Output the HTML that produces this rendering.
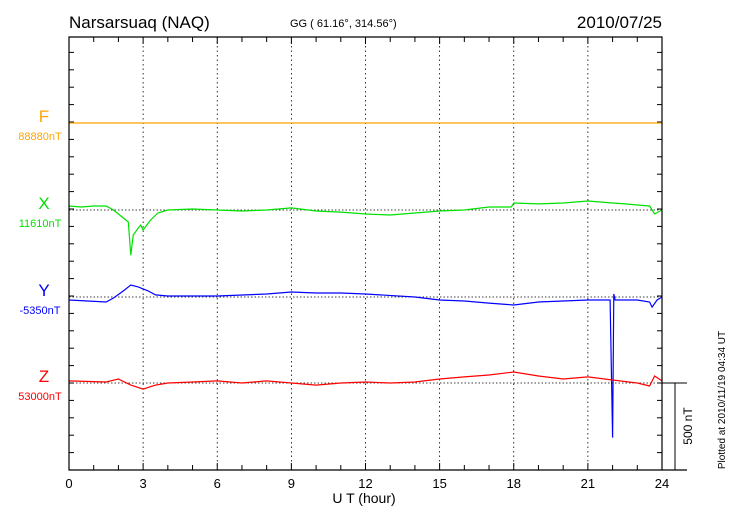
<!DOCTYPE html>
<html><head><meta charset="utf-8"><style>
body{margin:0;background:#fff}
svg{font-family:"Liberation Sans",sans-serif}
</style></head><body>
<svg id="c" width="730" height="520">
<text x="69" y="28" font-size="17">Narsarsuaq (NAQ)</text>
<text x="290" y="27" font-size="11">GG ( 61.16°, 314.56°)</text>
<text x="662" y="28" font-size="17" text-anchor="end">2010/07/25</text>
<text x="725" y="400" font-size="10" text-anchor="middle" transform="rotate(-90 725 400)">Plotted at 2010/11/19 04:34 UT</text>
<text x="364" y="503" font-size="14" text-anchor="middle">U T (hour)</text>
</svg>
<script>
const hoursTicks=[0,3,6,9,12,15,18,21,24];
const fT=[0,24], fV=[0,0];
const xT=[0,0.5,1,1.5,1.8,2.0,2.2,2.4,2.5,2.6,2.8,2.9,3.0,3.3,3.6,4,5,6,7,8,9,10,11,12,13,14,15,16,17,17.9,18,19,20,21,22,22.5,23,23.5,23.7,24];
const xV=[23,17,23,23,0,-23,-46,-69,-260,-144,-104,-87,-115,-58,-17,0,6,0,-6,0,12,-6,-12,-23,-29,-17,-6,0,17,17,40,35,40,52,40,35,29,23,-23,0];
const yT=[0,1.5,1.8,2.2,2.5,2.8,3.2,3.5,4,6,8,9,10,11,12,14,15,16,17,18,19,20,21,21.9,22.0,22.05,22.1,23,23.5,23.6,23.8,24];
const yV=[-17,-29,-6,35,69,58,35,12,6,6,17,29,23,23,17,0,-17,-23,-35,-46,-29,-23,-17,-17,-808,17,-17,-17,-29,-58,-17,0];
const zT=[0,1.5,2,2.5,3,3.5,4,5,6,7,8,9,10,11,12,13,14,15,16,17,18,19,20,21,22,23,23.5,23.7,24];
const zV=[12,6,23,-12,-35,-12,0,6,12,0,12,0,-12,0,6,0,6,23,35,46,63,40,23,35,17,0,-17,40,12];
const labels=["F","X","Y","Z"], bases=["88880nT","11610nT","-5350nT","53000nT"];
const colors=["#ffa500","#00e000","#0000ff","#ff0000"];
const baseY=[123,210,297,383];
const X0=69,X1=662,Y0=37,Y1=470,K=87/500;
const sx=h=>X0+h*(X1-X0)/24;
const svg=document.getElementById('c');
function el(t,a){const e=document.createElementNS('http://www.w3.org/2000/svg',t);for(const k in a)e.setAttribute(k,a[k]);svg.appendChild(e);return e;}
// grid verticals
for(let i=1;i<hoursTicks.length-1;i++){const g=el('line',{x1:sx(hoursTicks[i]),x2:sx(hoursTicks[i]),y1:Y0,y2:Y1,stroke:'#000','stroke-width':0.8,'stroke-dasharray':'1.5,3'});

}
for(let h=0;h<=24;h++){const len=h%3==0?7:5;
el('line',{x1:sx(h),x2:sx(h),y1:Y0,y2:Y0+len,stroke:'#000'});
el('line',{x1:sx(h),x2:sx(h),y1:Y1,y2:Y1-len,stroke:'#000'});}
for(const h of hoursTicks){const t=el('text',{x:sx(h),y:488,'font-size':13,'text-anchor':'middle'});t.textContent=h;

}
for(let y=Y1;y>=Y0-1;y-=500/5*K){el('line',{x1:X0,x2:X0+5,y1:y,y2:y,stroke:'#000'});el('line',{x1:X1,x2:X1-5,y1:y,y2:y,stroke:'#000'});}
const series=[[fT,fV],[xT,xV],[yT,yV],[zT,zV]];
series.forEach((s,i)=>{
 const b=el('line',{x1:X0,x2:X1,y1:baseY[i],y2:baseY[i],stroke:'#000','stroke-width':0.8,'stroke-dasharray':'1.5,2'});
 
 
 const p=s[0].map((t,j)=>sx(t).toFixed(1)+','+(baseY[i]-s[1][j]*K).toFixed(1)).join(' ');
 const l=el('polyline',{points:p,fill:'none',stroke:colors[i],'stroke-width':1.2});
 
 
 const t=el('text',{x:44,y:baseY[i]-1,'font-size':17,'text-anchor':'middle',fill:colors[i]});t.textContent=labels[i];
 
 
 const v=el('text',{x:40,y:baseY[i]+17,'font-size':11,'text-anchor':'middle',fill:colors[i]});v.textContent=bases[i];
 
 
});
const fr=el('path',{d:`M${X0},${Y0}H${X1}V${Y1}H${X0}Z M${X1},${Y1}H687`,fill:'none',stroke:'#000','stroke-width':1.2});


const sb=el('path',{d:`M${X1},383H687 M675,383V${Y1}`,fill:'none',stroke:'#000'});


const st=el('text',{x:692,y:426,'font-size':12,'text-anchor':'middle',transform:'rotate(-90 692 426)'});st.textContent='500 nT';


</script>
</body></html>
